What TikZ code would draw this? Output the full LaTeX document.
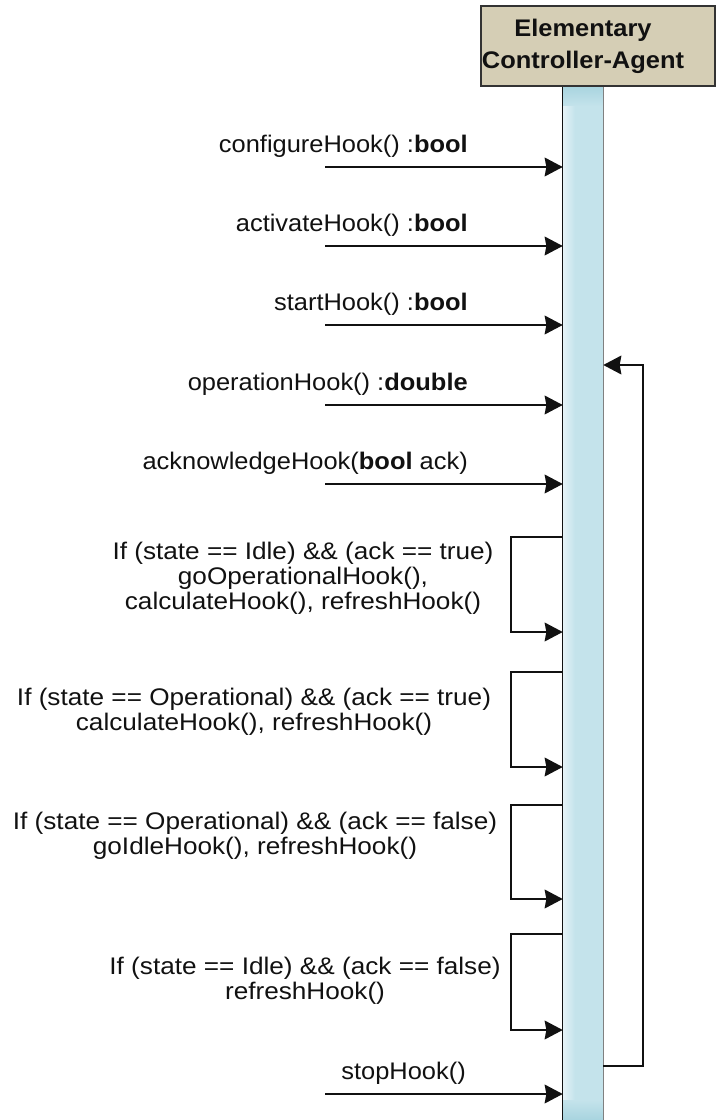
\documentclass[tikz,border=0pt]{standalone}
\usepackage{fontspec}
\setmainfont{Liberation Sans}[FakeStretch=1.06]
\newfontfamily\condfamily{Liberation Sans}[FakeStretch=1.09]
\usetikzlibrary{arrows.meta}

\definecolor{headfill}{HTML}{D5CEB5}
\definecolor{headline}{HTML}{333333}
\definecolor{barfill}{HTML}{C4E3EB}
\definecolor{bartop}{HTML}{A8D4DF}
\definecolor{barlight}{HTML}{E6F3F7}
\definecolor{ink}{HTML}{111111}

\newcommand\msgfont{\fontsize{18}{18.75}\selectfont}
\newcommand\condfont{\condfamily\fontsize{18}{18.75}\selectfont}
\newcommand\headfont{\fontsize{18}{24}\selectfont\bfseries}

\begin{document}
\begin{tikzpicture}[x=0.75pt,y=-0.75pt,
  msg/.style={line width=1.7pt, color=ink,
    -{Stealth[length=13.5pt,width=14pt,inset=1.2pt]}},
  msglabel/.style={font=\msgfont, text=ink, inner sep=0pt, anchor=base east},
  condlabel/.style={font=\condfont, text=ink, inner sep=0pt, align=center},
]
\useasboundingbox (0,0) rectangle (716,1120);

% lifeline bar of the agent
\node[inner sep=0pt, minimum width=30pt, minimum height=783pt, anchor=north,
      fill=barfill] (life) at (583,86) {};
\shade[left color=barlight, right color=barfill]
  (life.north west) rectangle ([xshift=9pt]life.south west);
\shade[top color=bartop, bottom color=barfill]
  (life.north west) rectangle ([yshift=-15pt]life.north east);
\shade[top color=barfill, bottom color=bartop] (563,1100) rectangle (603,1120);
\draw[ink, line width=0.9pt] (life.north west) -- (life.south west);
\draw[gray, line width=0.9pt] (life.north east) -- (life.south east);

% header box
\node[draw=headline, fill=headfill, line width=1.3pt, inner sep=0pt,
      minimum width=175.5pt, minimum height=60pt] (head) at (598,46) {};
\node[font=\headfont, text=ink, align=center, inner sep=0pt] (headtxt) at (583,46)
  {Elementary\\Controller-Agent};

% incoming calls
\coordinate (m1) at (325,167);
\coordinate (m2) at (325,246);
\coordinate (m3) at (325,325);
\coordinate (m4) at (325,405);
\coordinate (m5) at (325,484);
\coordinate (m6) at (325,1094);
\draw[msg] (m1) -- (m1 -| life.west);
\draw[msg] (m2) -- (m2 -| life.west);
\draw[msg] (m3) -- (m3 -| life.west);
\draw[msg] (m4) -- (m4 -| life.west);
\draw[msg] (m5) -- (m5 -| life.west);
\draw[msg] (m6) -- (m6 -| life.west);

\node[msglabel] (l1) at (468,152) {configureHook() :\textbf{bool}};
\node[msglabel] (l2) at (468,231) {activateHook() :\textbf{bool}};
\node[msglabel] (l3) at (468,310) {startHook() :\textbf{bool}};
\node[msglabel] (l4) at (468,390) {operationHook() :\textbf{double}};
\node[msglabel] (l5) at (468,469) {acknowledgeHook(\textbf{bool} ack)};
\node[msglabel] (l6) at (466,1079) {stopHook()};

% self calls
\coordinate (s1a) at (511,537);  \coordinate (s1b) at (511,632);
\coordinate (s2a) at (511,672);  \coordinate (s2b) at (511,767);
\coordinate (s3a) at (511,805);  \coordinate (s3b) at (511,899);
\coordinate (s4a) at (511,934);  \coordinate (s4b) at (511,1030);
\draw[msg] (s1a -| life.west) -- (s1a) -- (s1b) -- (s1b -| life.west);
\draw[msg] (s2a -| life.west) -- (s2a) -- (s2b) -- (s2b -| life.west);
\draw[msg] (s3a -| life.west) -- (s3a) -- (s3b) -- (s3b -| life.west);
\draw[msg] (s4a -| life.west) -- (s4a) -- (s4b) -- (s4b -| life.west);

\node[condlabel] (c1) at (303,578)
  {If (state == Idle) \&\& (ack == true)\\goOperationalHook(),\\calculateHook(), refreshHook()};
\node[condlabel] (c2) at (254,712)
  {If (state == Operational) \&\& (ack == true)\\calculateHook(), refreshHook()};
\node[condlabel] (c3) at (255,836)
  {If (state == Operational) \&\& (ack == false)\\goIdleHook(), refreshHook()};
\node[condlabel] (c4) at (305,981)
  {If (state == Idle) \&\& (ack == false)\\refreshHook()};

% loop back to the operation step
\coordinate (r1) at (643,1066);
\coordinate (r2) at (643,365);
\draw[msg] (r1 -| life.east) -- (r1) -- (r2) -- (r2 -| life.east);
\end{tikzpicture}
\end{document}
